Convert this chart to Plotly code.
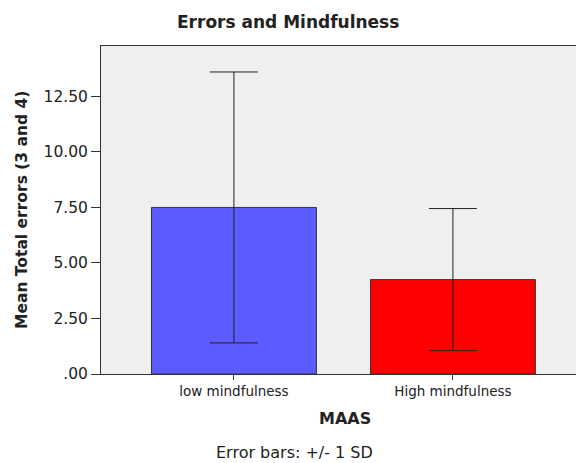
import plotly.graph_objects as go

# data
groups = ["low mindfulness", "High mindfulness"]
means = [7.5, 4.25]
sds = [6.1, 3.2]
bar_colors = ["#5B5BFF", "#FF0000"]
ytick_vals = [0, 2.5, 5, 7.5, 10, 12.5]
ytick_text = [".00", "2.50", "5.00", "7.50", "10.00", "12.50"]

FONT = "DejaVu Sans"

fig = go.Figure()
fig.add_trace(go.Bar(
    x=[0, 1],
    y=means,
    width=0.753,
    marker=dict(color=bar_colors, line=dict(color="#333333", width=1)),
    error_y=dict(type="data", array=sds, visible=True,
                 color="#222222", thickness=1, width=24),
    showlegend=False,
))

fig.update_layout(
    width=576,
    height=463,
    margin=dict(l=101, r=0, t=46, b=89),
    paper_bgcolor="white",
    plot_bgcolor="#EFEFEF",
    font=dict(family=FONT, color="#222222"),
    xaxis=dict(
        range=[-0.607, 1.562],
        tickvals=[0, 1],
        ticktext=groups,
        ticks="outside",
        ticklen=5,
        tickcolor="#333333",
        tickfont=dict(size=13.5),
        showline=True,
        linecolor="#333333",
        linewidth=1,
        mirror=True,
        showgrid=False,
        zeroline=False,
    ),
    yaxis=dict(
        range=[0, 14.77],
        tickvals=ytick_vals,
        ticktext=ytick_text,
        ticks="outside",
        ticklen=9,
        tickcolor="#333333",
        tickfont=dict(size=15.5),
        showline=True,
        linecolor="#333333",
        linewidth=1,
        showgrid=False,
        zeroline=False,
    ),
    annotations=[
        dict(text="<b>Errors and Mindfulness</b>", xref="paper", yref="paper",
             x=(288 - 101) / 475, y=1 + 24 / 328, xanchor="center", yanchor="middle",
             showarrow=False, font=dict(size=17)),
        dict(text="<b>Mean Total errors (3 and 4)</b>", xref="paper", yref="paper",
             x=(22 - 101) / 475, y=0.5, xanchor="center", yanchor="middle",
             textangle=-90, showarrow=False, font=dict(size=15.5)),
        dict(text="<b>MAAS</b>", xref="paper", yref="paper",
             x=(345 - 101) / 475, y=-(418 - 374) / 328, xanchor="center", yanchor="middle",
             showarrow=False, font=dict(size=16)),
        dict(text="Error bars: +/- 1 SD", xref="paper", yref="paper",
             x=(294 - 101) / 475, y=-(453 - 374) / 328, xanchor="center", yanchor="middle",
             showarrow=False, borderpad=0, font=dict(size=16)),
    ],
)

fig.write_html("out.html", config={"displayModeBar": False},
               post_script="document.body.style.margin='0';")
